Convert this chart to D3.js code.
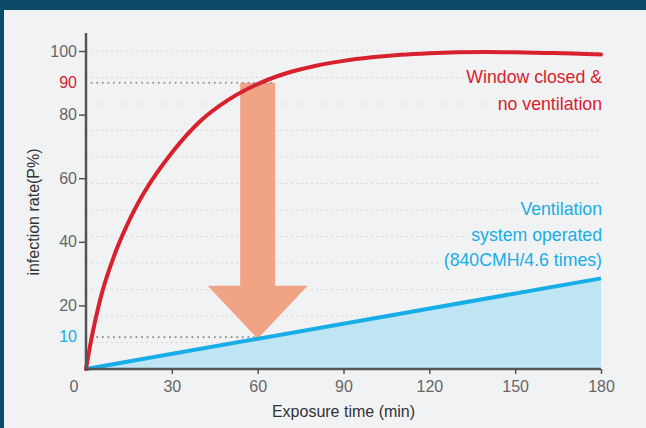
<!DOCTYPE html>
<html><head><meta charset="utf-8">
<script src="https://cdn.jsdelivr.net/npm/d3@7"></script>
<style>
html,body{margin:0;padding:0;background:#f1f2f4;}
svg{display:block;font-family:"Liberation Sans",Arial,Helvetica,sans-serif;}
</style></head>
<body>
<svg id="chart" width="646" height="428"></svg>
<script>
// ---- data ----
const timeMin = [0, 2, 5, 10, 15, 20, 30, 40, 50, 60, 70, 80, 90, 100, 110, 120, 130, 140, 150, 160, 170, 180];
const closedNoVent = [0, 10, 22, 36, 46.5, 55, 68, 78, 84.8, 89.6, 93, 95.3, 96.9, 98, 98.8, 99.3, 99.6, 99.7, 99.6, 99.4, 99.2, 98.9];
const ventTime = [0, 180];
const ventOperated = [0, 28.5];
const xTicks = [30, 60, 90, 120, 150, 180];
const yTicks = [20, 40, 60, 80, 100];
const markerTime = 60;
const markerHigh = 90;
const markerLow = 10;
const gridSteps = 12;
const redLabel = ["Window closed &", "no ventilation"];
const blueLabel = ["Ventilation", "system operated", "(840CMH/4.6 times)"];
const xTitle = "Exposure time (min)";
const yTitle = "infection rate(P%)";

// ---- styles ----
const RED = "#d7222d", BLUE = "#17ade6", BLUE_FILL = "#bfe4f3", ARROW = "#f0a385";
const BG = "#f1f2f4", FRAME = "#0b4a6a", AXIS = "#545454", TICKTXT = "#666";

const svg = d3.select("#chart");
svg.append("rect").attr("width", 646).attr("height", 428).attr("fill", BG);
svg.append("rect").attr("width", 646).attr("height", 10).attr("fill", FRAME);
svg.append("rect").attr("width", 4).attr("height", 428).attr("fill", FRAME);

const x = d3.scaleLinear().domain([0, 180]).range([86, 601]);
const y = d3.scaleLinear().domain([0, 100]).range([369, 51]);

// gridlines
const gridVals = d3.range(gridSteps + 1).map(i => i * 100 / gridSteps);
svg.append("g").selectAll("line").data(gridVals).join("line")
  .attr("x1", x(0)).attr("x2", x(180))
  .attr("y1", d => y(d)).attr("y2", d => y(d))
  .attr("stroke", "#d6d8db").attr("stroke-width", 1).attr("stroke-dasharray", "2,3");

// blue area
const ventData = ventTime.map((t, i) => ({t, v: ventOperated[i]}));
svg.append("path").datum(ventData)
  .attr("d", d3.area().x(d => x(d.t)).y0(y(0)).y1(d => y(d.v)))
  .attr("fill", BLUE_FILL);

// arrow
const ax = x(markerTime), aTop = y(markerHigh), aTip = y(markerLow) + 1.5;
const shaftW = 17.5, headW = 50, headL = 53;
svg.append("path")
  .attr("d", `M${ax - shaftW},${aTop} L${ax + shaftW},${aTop} L${ax + shaftW},${aTip - headL} L${ax + headW},${aTip - headL} L${ax},${aTip} L${ax - headW},${aTip - headL} L${ax - shaftW},${aTip - headL} Z`)
  .attr("fill", ARROW);

// dotted reference lines
svg.append("line").attr("x1", x(0)).attr("x2", ax + shaftW).attr("y1", y(markerHigh)).attr("y2", y(markerHigh))
  .attr("stroke", "#9a9a9a").attr("stroke-width", 2.2).attr("stroke-linecap", "round").attr("stroke-dasharray", "0,5.6");
svg.append("line").attr("x1", x(0)).attr("x2", ax).attr("y1", y(markerLow)).attr("y2", y(markerLow))
  .attr("stroke", "#9a9a9a").attr("stroke-width", 2.2).attr("stroke-linecap", "round").attr("stroke-dasharray", "0,5.6");

// lines
svg.append("path").datum(ventData)
  .attr("d", d3.line().x(d => x(d.t)).y(d => y(d.v)))
  .attr("fill", "none").attr("stroke", BLUE).attr("stroke-width", 4);

const redData = timeMin.map((t, i) => ({t, v: closedNoVent[i]}));
svg.append("path").datum(redData)
  .attr("d", d3.line().curve(d3.curveMonotoneX).x(d => x(d.t)).y(d => y(d.v)))
  .attr("fill", "none").attr("stroke", RED).attr("stroke-width", 4).attr("stroke-linecap", "round");

// axes
const yAxis = svg.append("g").attr("transform", `translate(${x(0)},0)`)
  .call(d3.axisLeft(y).tickValues(yTicks).tickSize(7).tickPadding(2).tickFormat(d3.format("d")));
yAxis.select(".domain").remove();
yAxis.selectAll(".tick line").attr("stroke", AXIS).attr("stroke-width", 1.5);
yAxis.selectAll(".tick text").attr("fill", TICKTXT).attr("font-size", 16).attr("font-family", null);

const xAxis = svg.append("g").attr("transform", `translate(0,${y(0)})`)
  .call(d3.axisBottom(x).tickValues(xTicks).tickSize(5).tickPadding(7));
xAxis.select(".domain").remove();
xAxis.selectAll(".tick line").attr("stroke", AXIS).attr("stroke-width", 1.5);
xAxis.selectAll(".tick text").attr("fill", TICKTXT).attr("font-size", 16).attr("font-family", null);

svg.append("line").attr("x1", x(0)).attr("x2", x(0)).attr("y1", 33).attr("y2", y(0) + 1.2)
  .attr("stroke", AXIS).attr("stroke-width", 2.5);
svg.append("line").attr("x1", x(0)).attr("x2", x(180)).attr("y1", y(0)).attr("y2", y(0))
  .attr("stroke", AXIS).attr("stroke-width", 2.5);

// colored marker labels and origin label
svg.append("text").attr("x", x(0) - 9).attr("y", y(markerHigh)).attr("dy", "0.32em")
  .attr("text-anchor", "end").attr("font-size", 16).attr("fill", RED).text(markerHigh);
svg.append("text").attr("x", x(0) - 9).attr("y", y(markerLow)).attr("dy", "0.32em")
  .attr("text-anchor", "end").attr("font-size", 16).attr("fill", BLUE).text(markerLow);
svg.append("text").attr("x", 74).attr("y", 392)
  .attr("text-anchor", "middle").attr("font-size", 16).attr("fill", TICKTXT).text(0);

// axis titles
svg.append("text").attr("x", (x(0) + x(180)) / 2).attr("y", 417)
  .attr("text-anchor", "middle").attr("font-size", 16).attr("fill", "#333").text(xTitle);
svg.append("text").attr("transform", "translate(39,212) rotate(-90)")
  .attr("text-anchor", "middle").attr("font-size", 16).attr("fill", "#333").text(yTitle);

// annotations
function annot(lines, y0, step, color) {
  const g = svg.append("g");
  lines.forEach((s, i) => {
    const t = g.append("text").attr("x", 602).attr("y", y0 + i * step)
      .attr("text-anchor", "end").attr("font-size", 17.7).attr("fill", color).text(s);
    const b = t.node().getBBox();
    g.insert("rect", "text").attr("x", b.x - 3).attr("y", b.y).attr("width", b.width + 6).attr("height", b.height)
      .attr("fill", BG);
  });
}
annot(redLabel, 83, 27, RED);
annot(blueLabel, 215, 25.5, BLUE);
</script>
</body></html>
